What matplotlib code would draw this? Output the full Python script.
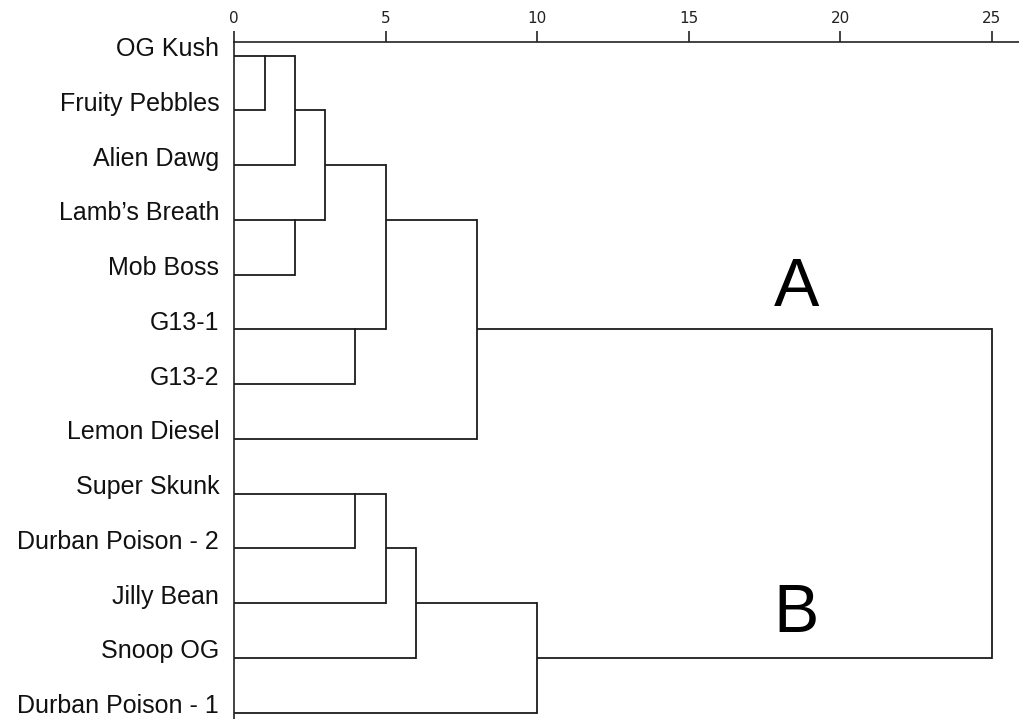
import matplotlib
matplotlib.use("Agg")
import matplotlib.pyplot as plt

# strains, top to bottom
strains = [
    "OG Kush", "Fruity Pebbles", "Alien Dawg", "Lamb\u2019s Breath", "Mob Boss",
    "G13-1", "G13-2", "Lemon Diesel", "Super Skunk", "Durban Poison - 2",
    "Jilly Bean", "Snoop OG", "Durban Poison - 1",
]

# agglomeration steps: (cluster a, cluster b, rescaled distance)
# leaves are 0..12, each merge creates the next id (13, 14, ...)
merge_a = [0, 13, 3, 14, 5, 16, 18, 8, 20, 21, 22, 19]
merge_b = [1, 2, 4, 15, 6, 17, 7, 9, 10, 11, 12, 23]
merge_dist = [1, 2, 2, 3, 4, 5, 8, 4, 5, 6, 10, 25]

ticks = [0, 5, 10, 15, 20, 25]
group_labels = ["A", "B"]
group_pos = [(18.54, 4.57), (18.54, 10.53)]

LINE = "#1c1c1c"
LW = 1.3

fig = plt.figure(figsize=(10.2, 7.19), dpi=100)
ax = fig.add_axes([234.3 / 1020, 0, 1 - 234.3 / 1020, 1 - 41.7 / 719])

# every node has a row and the distance at which it was formed
row = {i: i for i in range(len(strains))}
dist = {i: 0 for i in range(len(strains))}
node = len(strains)
for a, b, d in zip(merge_a, merge_b, merge_dist):
    # horizontal stubs from each child up to the merge distance
    for c in (a, b):
        ax.plot([dist[c], d], [row[c], row[c]], color=LINE, lw=LW,
                solid_capstyle="butt")
    ax.plot([d, d], [row[a], row[b]], color=LINE, lw=LW, solid_capstyle="projecting")
    row[node] = (row[a] + row[b]) // 2
    dist[node] = d
    node += 1

for i, name in enumerate(strains):
    ax.text(-0.5, i + 0.01, name, ha="right", va="baseline",
            fontsize=18, family="Liberation Sans", color="#111111")

for txt, (x, y) in zip(group_labels, group_pos):
    ax.text(x, y, txt, ha="center", va="baseline", fontsize=49,
            family="Liberation Sans", color="black")

ax.set_xlim(0, (1020 - 234.3) / 30.3)
ax.set_ylim(12 + (719 - 712.7) / 54.75, -(55.7 - 41.7) / 54.75)

ax.xaxis.tick_top()
ax.set_xticks(ticks)
ax.set_xticklabels([str(t) for t in ticks])
ax.tick_params(axis="x", direction="out", length=8, width=1.2, pad=3,
               labelsize=11, colors="#222222")
ax.set_yticks([])
for side in ("right", "bottom"):
    ax.spines[side].set_visible(False)
for side in ("top", "left"):
    ax.spines[side].set_linewidth(1.2)
    ax.spines[side].set_color("#222222")

fig.savefig("out.png", dpi=100)
